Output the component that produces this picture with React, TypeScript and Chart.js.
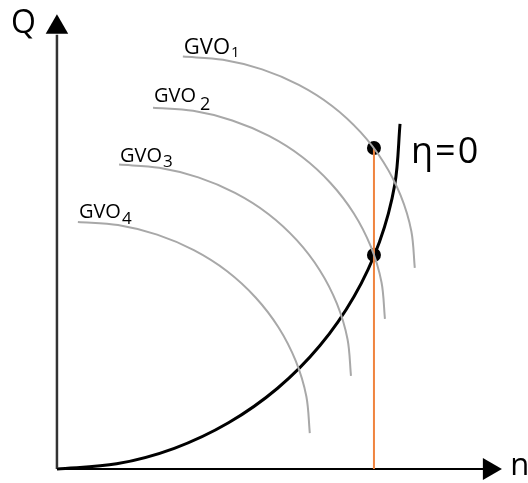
import { useEffect, useRef } from "react";
import { Chart, registerables } from "chart.js";

Chart.register(...registerables);

// Relative units: n (speed) on the horizontal axis, Q (flow) on the vertical axis.
// Constant guide-vane-opening curves, largest opening first.
const gvo1 = [
  { x: 36.7, y: 119.5 }, { x: 48.4, y: 118.6 }, { x: 59.8, y: 115.8 }, { x: 70.5, y: 111.3 },
  { x: 80.2, y: 105.2 }, { x: 88.5, y: 97.6 }, { x: 95.2, y: 88.9 }, { x: 100.2, y: 79.2 },
  { x: 103.3, y: 68.9 }, { x: 104.3, y: 58.3 },
];
const gvo2 = [
  { x: 28.0, y: 104.7 }, { x: 39.7, y: 103.8 }, { x: 51.1, y: 101.0 }, { x: 61.8, y: 96.5 },
  { x: 71.5, y: 90.4 }, { x: 79.8, y: 82.8 }, { x: 86.5, y: 74.1 }, { x: 91.5, y: 64.4 },
  { x: 94.6, y: 54.1 }, { x: 95.6, y: 43.5 },
];
const gvo3 = [
  { x: 18.1, y: 88.2 }, { x: 29.8, y: 87.3 }, { x: 41.2, y: 84.5 }, { x: 51.9, y: 80.0 },
  { x: 61.6, y: 73.9 }, { x: 69.9, y: 66.3 }, { x: 76.6, y: 57.6 }, { x: 81.6, y: 47.9 },
  { x: 84.7, y: 37.6 }, { x: 85.7, y: 27.0 },
];
const gvo4 = [
  { x: 6.1, y: 71.6 }, { x: 17.8, y: 70.7 }, { x: 29.2, y: 67.9 }, { x: 39.9, y: 63.4 },
  { x: 49.6, y: 57.3 }, { x: 57.9, y: 49.7 }, { x: 64.6, y: 41.0 }, { x: 69.6, y: 31.3 },
  { x: 72.7, y: 21.0 }, { x: 73.7, y: 10.4 },
];
const gvoCurves = [gvo1, gvo2, gvo3, gvo4];
const gvoIndices = ["1", "2", "3", "4"];

// Zero-efficiency (runaway) curve
const etaZero = [
  { x: 0, y: 0 }, { x: 17.4, y: 1.5 }, { x: 34.2, y: 6.0 }, { x: 50.0, y: 13.4 },
  { x: 64.3, y: 23.4 }, { x: 76.6, y: 35.7 }, { x: 86.6, y: 50.0 }, { x: 94.0, y: 65.8 },
  { x: 98.5, y: 82.6 }, { x: 100.0, y: 100.0 },
];

// Operating speed and the two marked flows (on GVO1 and on η=0)
const operatingN = 92.4;
const operatingQ = [93.0, 62.0];

// Axis extents (the arrowheads sit just beyond)
const nAxisEnd = 124.3;
const qAxisEnd = 125.8;
const nArrowAt = 126.0;
const qArrowAt = 128.0;

const FONT = '"Open Sans", "DejaVu Sans", sans-serif';

// Per-label text styling for the GVO captions
const gvoLabelStyle = [
  { size: 22, sub: 15, lift: 3, drop: 3, gap: 1 },
  { size: 20, sub: 18, lift: 6, drop: 8, gap: 4 },
  { size: 20, sub: 17, lift: 3, drop: 5, gap: 1 },
  { size: 20, sub: 17, lift: 4, drop: 6, gap: 1 },
];

const labelPlugin = {
  id: "diagramLabels",
  afterDatasetsDraw(chart: any) {
    const { ctx, scales } = chart;
    const sx = scales.x;
    const sy = scales.y;
    ctx.save();
    ctx.fillStyle = "#000";
    ctx.textBaseline = "alphabetic";
    ctx.textAlign = "left";

    gvoCurves.forEach((curve, i) => {
      const st = gvoLabelStyle[i];
      const bx = sx.getPixelForValue(curve[0].x) + 1;
      const by = sy.getPixelForValue(curve[0].y) - st.lift;
      ctx.font = `${st.size}px ${FONT}`;
      ctx.fillText("GVO", bx, by);
      const w = ctx.measureText("GVO").width;
      ctx.font = `${st.sub}px ${FONT}`;
      ctx.fillText(gvoIndices[i], bx + w + st.gap, by + st.drop);
    });

    // η=0 beside the top of the zero-efficiency curve
    const top = etaZero[etaZero.length - 1];
    ctx.font = `36px ${FONT}`;
    if ("letterSpacing" in ctx) ctx.letterSpacing = "2px";
    ctx.fillText("η=0", sx.getPixelForValue(top.x) + 11, sy.getPixelForValue(top.y) + 39);
    if ("letterSpacing" in ctx) ctx.letterSpacing = "0px";

    // Axis names
    const ox = sx.getPixelForValue(0);
    const oy = sy.getPixelForValue(0);
    ctx.font = `32px ${FONT}`;
    ctx.textAlign = "right";
    ctx.fillText("Q", ox - 21, sy.getPixelForValue(qArrowAt) + 6);
    ctx.textAlign = "left";
    ctx.font = `31px ${FONT}`;
    ctx.fillText("n", sx.getPixelForValue(nArrowAt) + 21, oy + 6);
    ctx.restore();
  },
};

export default function App() {
  const canvasRef = useRef<HTMLCanvasElement | null>(null);

  useEffect(() => {
    document.body.style.margin = "0";
    const canvas = canvasRef.current;
    if (!canvas) return;

    const curve = (data: any[], color: string, width: number) => ({
      data,
      showLine: true,
      borderColor: color,
      backgroundColor: color,
      borderWidth: width,
      pointRadius: 0,
      tension: 0.33,
      fill: false,
      clip: false,
    });

    const marker = (data: any[], radius: number, style: string, rotation: number) => ({
      data,
      pointStyle: style,
      pointRadius: radius,
      rotation,
      pointBackgroundColor: "#000",
      pointBorderColor: "#000",
      pointBorderWidth: 0,
      showLine: false,
      clip: false,
    });

    const chart = new Chart(canvas, {
      type: "scatter",
      data: {
        datasets: [
          ...gvoCurves.map((c) => curve(c, "#a8a8a8", 2)),
          curve(
            [{ x: operatingN, y: 0 }, { x: operatingN, y: operatingQ[0] }],
            "#f0843f",
            2
          ),
          { ...curve([{ x: 0, y: 0 }, { x: nAxisEnd, y: 0 }], "#000", 2), tension: 0 },
          { ...curve([{ x: 0, y: 0 }, { x: 0, y: qAxisEnd }], "#333", 2.5), tension: 0 },
          curve(etaZero, "#000", 3),
          marker(operatingQ.map((q) => ({ x: operatingN, y: q })), 7, "circle", 0),
          marker([{ x: 0, y: qArrowAt }], 13, "triangle", 0),
          marker([{ x: nArrowAt, y: 0 }], 12.7, "triangle", 90),
        ] as any,
      },
      options: {
        animation: false,
        responsive: true,
        maintainAspectRatio: false,
        events: [],
        layout: { padding: 0, autoPadding: false },
        plugins: {
          legend: { display: false },
          tooltip: { enabled: false },
        },
        scales: {
          x: { type: "linear", min: -16.6, max: 137.3, display: false },
          y: { type: "linear", min: -4.06, max: 135.9, display: false },
        },
      },
      plugins: [labelPlugin],
    });

    return () => chart.destroy();
  }, []);

  return (
    <div style={{ position: "relative", width: 528, height: 483, background: "#fff" }}>
      <canvas ref={canvasRef} />
    </div>
  );
}
